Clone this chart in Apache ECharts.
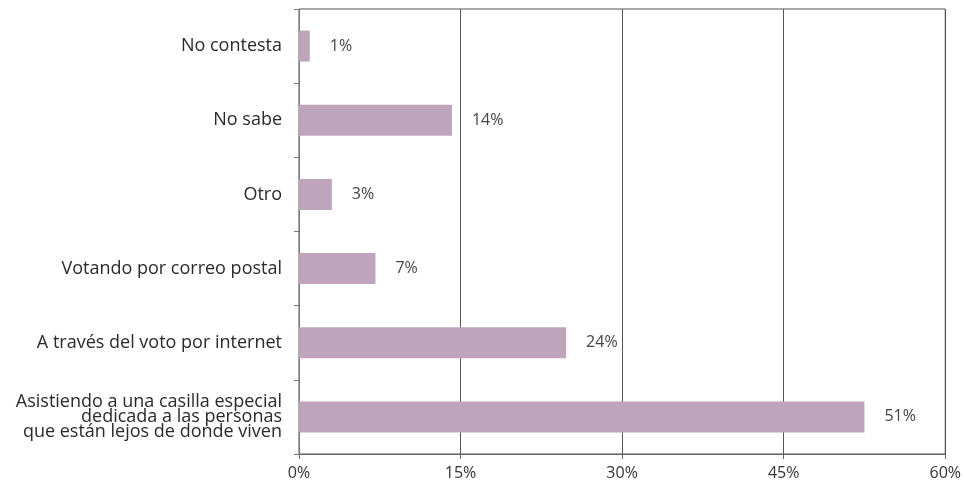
<!DOCTYPE html>
<html>
<head>
<meta charset="utf-8">
<script src="https://cdn.jsdelivr.net/npm/echarts@6/dist/echarts.min.js"></script>
<style>html,body{margin:0;padding:0;background:#fff;overflow:hidden}#c{width:964px;height:485px}</style>
</head>
<body>
<div id="c"></div>
<script>
var categories = [
  "Asistiendo a una casilla especial\ndedicada a las personas\nque están lejos de donde viven",
  "A través del voto por internet",
  "Votando por correo postal",
  "Otro",
  "No sabe",
  "No contesta"
];
var values = [52.5, 24.8, 7.1, 3.05, 14.2, 1.0];
var valueLabels = ["51%", "24%", "7%", "3%", "14%", "1%"];
var xTicks = [0, 15, 30, 45, 60];

var chart = echarts.init(document.getElementById('c'));
chart.setOption({
  animation: false,
  textStyle: { fontFamily: 'Open Sans' },
  grid: { left: 299, right: 12, top: 9, bottom: 31, containLabel: false,
          show: true, borderColor: '#555', borderWidth: 1 },
  xAxis: {
    type: 'value', min: 0, max: 60, interval: 15,
    axisLine: { show: true, lineStyle: { color: '#666' } },
    axisTick: { show: true, length: 5, lineStyle: { color: '#666' } },
    splitLine: { show: true, lineStyle: { color: '#555', width: 1 } },
    axisLabel: { color: '#333', fontSize: 16, margin: 11,
                 formatter: function (v) { return v + '%'; } }
  },
  yAxis: {
    type: 'category', data: categories,
    axisLine: { show: true, lineStyle: { color: '#777' } },
    axisTick: { show: true, length: 5, lineStyle: { color: '#777' } },
    axisLabel: { color: '#2a2a2a', fontSize: 18, margin: 17, lineHeight: 15 }
  },
  series: [{
    type: 'bar',
    data: values,
    barWidth: 31,
    itemStyle: { color: '#bfa5bc' },
    label: {
      show: true, position: 'right', distance: 20,
      color: '#444', fontSize: 16,
      formatter: function (p) { return valueLabels[p.dataIndex]; }
    }
  }]
});
</script>
</body>
</html>
